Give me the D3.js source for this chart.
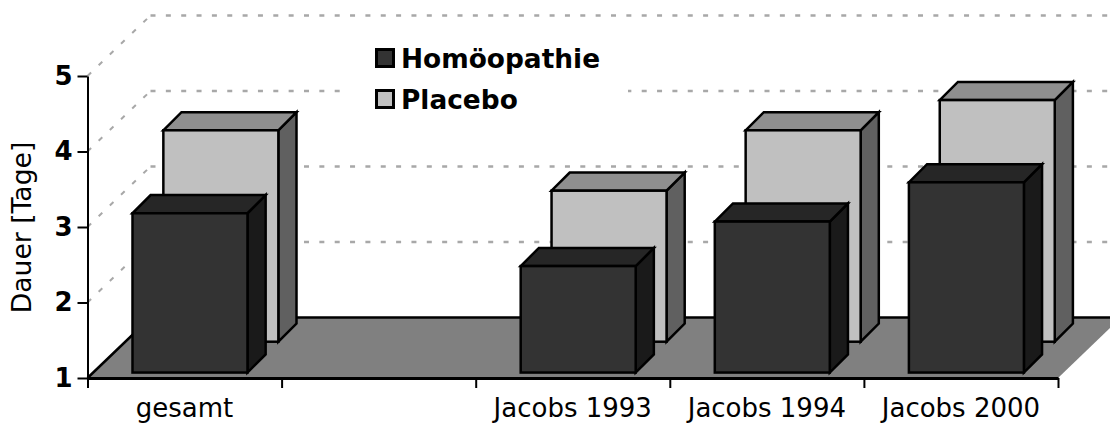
<!DOCTYPE html>
<html>
<head>
<meta charset="utf-8">
<title>Dauer</title>
<script src="https://cdn.jsdelivr.net/npm/d3@7"></script>
<style>
    html, body { margin: 0; padding: 0; background: #fff; overflow: hidden; }
    svg { display: block; }
    svg text { font-family: "DejaVu Sans", sans-serif; }
</style>
</head>
<body>
<div id="chart"></div>
<script>
// values
const categories = ["gesamt", "", "Jacobs 1993", "Jacobs 1994", "Jacobs 2000"];
const homoeopathie = [3.11, null, 2.41, 3.0, 3.52];
const placebo = [3.8, null, 3.0, 3.8, 4.2];
const yTicks = [1, 2, 3, 4, 5];
const seriesNames = ["Homöopathie", "Placebo"];

const width = 1110, height = 423;
const x0 = 87.5, x1 = 1058, y0 = 378, y5 = 76;
const depthX = 63, depthY = 60.5;

const svg = d3.select("#chart")
    .append("svg")
    .attr("width", width)
    .attr("height", height);

// Scales
const xScale = d3.scaleBand().domain(categories).range([x0, x1]);
const tickScale = d3.scaleLinear().domain([0, categories.length]).range([x0, x1]);
const yScale = d3.scaleLinear().domain([1, 5]).range([y0, y5]);
// depth runs from the front (0) to the back wall (1)
const zX = d3.scaleLinear().domain([0, 1]).range([0, depthX]);
const zY = d3.scaleLinear().domain([0, 1]).range([0, depthY]);

// Grid on the side and back wall
const gridColor = "#a8a8a8";
yTicks.slice(1).forEach(function(t) {
    svg.append("line")
        .attr("x1", x0).attr("y1", yScale(t))
        .attr("x2", x0 + zX(1)).attr("y2", yScale(t) - zY(1))
        .attr("stroke", gridColor).attr("stroke-width", 2)
        .attr("stroke-dasharray", "5,10.5");
});
yTicks.slice(1).forEach(function(t) {
    svg.append("line")
        .attr("x1", x0 + zX(1)).attr("y1", yScale(t) - zY(1))
        .attr("x2", width).attr("y2", yScale(t) - zY(1))
        .attr("stroke", gridColor).attr("stroke-width", 2.5)
        .attr("stroke-dasharray", "5,10.35");
});

// Floor
const floorPts = [
    [x0, y0],
    [x0 + zX(1), y0 - zY(1)],
    [x1 + zX(1), y0 - zY(1)],
    [x1, y0]
];
svg.append("polygon")
    .attr("points", floorPts.join(" "))
    .attr("fill", "#808080");
svg.append("path")
    .attr("d", d3.line()(floorPts.slice(0, 3)))
    .attr("fill", "none")
    .attr("stroke", "#000")
    .attr("stroke-width", 2.5);

// Draw one 3D bar: zFront and zBack are the depth fractions
function drawBars(values, zFront, zBack, colors) {
    const barWidth = 115;
    const inset = (xScale.bandwidth() - barWidth) / 2;
    const g = svg.append("g")
        .attr("stroke", "#000")
        .attr("stroke-width", 2.5);

    categories.forEach(function(c, i) {
        if (values[i] === null) return;
        // bars shift the same amount in x and y
        const left = xScale(c) + inset + zY(zFront);
        const right = left + barWidth;
        const bottom = y0 - zY(zFront);
        const top = yScale(values[i]) - zY(zFront);
        const d = zY(zBack) - zY(zFront);

        // side
        g.append("polygon")
            .attr("points", [[right, top], [right + d, top - d], [right + d, bottom - d], [right, bottom]].join(" "))
            .attr("fill", colors.side);
        // top
        g.append("polygon")
            .attr("points", [[left, top], [left + d, top - d], [right + d, top - d], [right, top]].join(" "))
            .attr("fill", colors.top);
        // front
        g.append("rect")
            .attr("x", left)
            .attr("y", top)
            .attr("width", barWidth)
            .attr("height", bottom - top)
            .attr("fill", colors.front);
    });
}

const lightColors = { front: "#c0c0c0", top: "#8f8f8f", side: "#606060" };
const darkColors = { front: "#333333", top: "#262626", side: "#1a1a1a" };
drawBars(placebo, 0.6, 0.9, lightColors);
drawBars(homoeopathie, 0.09, 0.39, darkColors);

// Axes
const yAxis = d3.axisLeft(yScale)
    .tickValues(yTicks)
    .tickFormat(d3.format("d"))
    .tickSize(10)
    .tickSizeOuter(0)
    .tickPadding(5);
const yG = svg.append("g")
    .attr("transform", "translate(" + x0 + ",0)")
    .call(yAxis);
yG.selectAll("line").attr("stroke", "#000").attr("stroke-width", 2);
yG.select(".domain").attr("stroke", "#000").attr("stroke-width", 2);
yG.selectAll("text")
    .attr("fill", "#000")
    .style("font-size", "26px")
    .style("font-weight", "bold");

const tickAxis = d3.axisBottom(tickScale)
    .tickValues(d3.range(categories.length + 1))
    .tickFormat("")
    .tickSize(10)
    .tickSizeOuter(0);
const tickG = svg.append("g")
    .attr("transform", "translate(0," + y0 + ")")
    .call(tickAxis);
tickG.selectAll("line").attr("stroke", "#000").attr("stroke-width", 2);
tickG.select(".domain").attr("stroke", "#000").attr("stroke-width", 3);

const labelAxis = d3.axisBottom(xScale).tickSize(0).tickPadding(20.5);
const labelG = svg.append("g")
    .attr("transform", "translate(0," + y0 + ")")
    .call(labelAxis);
labelG.select(".domain").remove();
labelG.selectAll("text")
    .attr("fill", "#000")
    .style("font-size", "26px");

// Axis title
svg.append("text")
    .attr("transform", "translate(31,227.5) rotate(-90)")
    .attr("text-anchor", "middle")
    .attr("fill", "#000")
    .style("font-size", "26.6px")
    .text("Dauer [Tage]");

// Legend
const legend = svg.append("g");
legend.append("rect")
    .attr("x", 341).attr("y", 30)
    .attr("width", 287).attr("height", 100)
    .attr("fill", "#fff");
[darkColors, lightColors].forEach(function(c, i) {
    legend.append("rect")
        .attr("x", 376.5).attr("y", 49.5 + i * 41)
        .attr("width", 17).attr("height", 17)
        .attr("fill", c.front)
        .attr("stroke", "#000")
        .attr("stroke-width", 3);
    legend.append("text")
        .attr("x", 401).attr("y", 68 + i * 40.5)
        .attr("fill", "#000")
        .style("font-size", "26.4px")
        .style("font-weight", "bold")
        .text(seriesNames[i]);
});
</script>
</body>
</html>
